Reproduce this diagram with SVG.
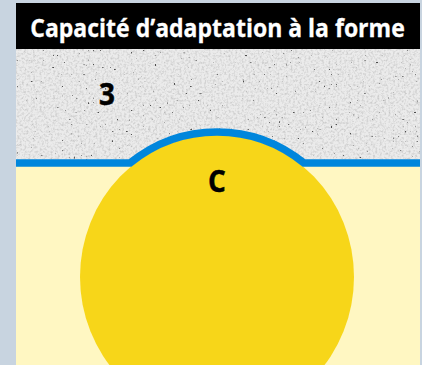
<svg xmlns="http://www.w3.org/2000/svg" width="422" height="365" viewBox="0 0 422 365">
<style>
text{font-family:"Open Sans","Noto Sans","Liberation Sans",sans-serif;font-weight:700}
.lbl{font-size:31px;fill:#000;stroke:#000;stroke-width:.5;text-anchor:middle}
</style>
<defs>
<filter id="mottle" x="0" y="0" width="100%" height="100%" color-interpolation-filters="sRGB">
<feTurbulence type="fractalNoise" baseFrequency="0.45" numOctaves="2" seed="4"/>
<feColorMatrix type="matrix" values="0 0 0 0 0.78  0 0 0 0 0.78  0 0 0 0 0.78  2.2 0 0 0 -0.95"/>
</filter>
<filter id="specks" x="0" y="0" width="100%" height="100%" color-interpolation-filters="sRGB">
<feTurbulence type="fractalNoise" baseFrequency="0.42" numOctaves="1" seed="11"/>
<feColorMatrix type="matrix" values="0 0 0 0 0.3  0 0 0 0 0.3  0 0 0 0 0.3  14 0 0 0 -10.1"/>
</filter>
<clipPath id="panel"><rect x="16" y="3" width="404" height="362"/></clipPath>
</defs>
<rect width="422" height="365" fill="#c8d4e0"/>
<g id="sand">
<rect x="16" y="49" width="404" height="114" fill="#ebebeb"/>
<rect x="16" y="49" width="404" height="114" filter="url(#mottle)"/>
<rect x="16" y="49" width="404" height="114" filter="url(#specks)"/>
</g>
<rect id="ground" x="16" y="163" width="404" height="202" fill="#fff7c2"/>
<g clip-path="url(#panel)">
<g id="ball"><ellipse cx="217" cy="277" rx="137" ry="142" fill="#f7d619"/></g>
<g id="connectors"><path d="M16 163H130A140.750 145.500 0 0 1 304 163H420" fill="none" stroke="#0086dc" stroke-width="7.500"/></g>
</g>
<g id="title">
<rect x="16" y="3" width="404" height="46" fill="#000"/>
<text transform="translate(217.500 37) scale(.92 1)" font-size="25" fill="#fff" stroke="#fff" stroke-width=".3" text-anchor="middle">Capacité d’adaptation à la forme</text>
</g>
<g id="label-3"><text class="lbl" transform="translate(107 105) scale(.9 1)">3</text></g>
<g id="label-c"><text class="lbl" transform="translate(217 192) scale(.9 1)">C</text></g>
</svg>
